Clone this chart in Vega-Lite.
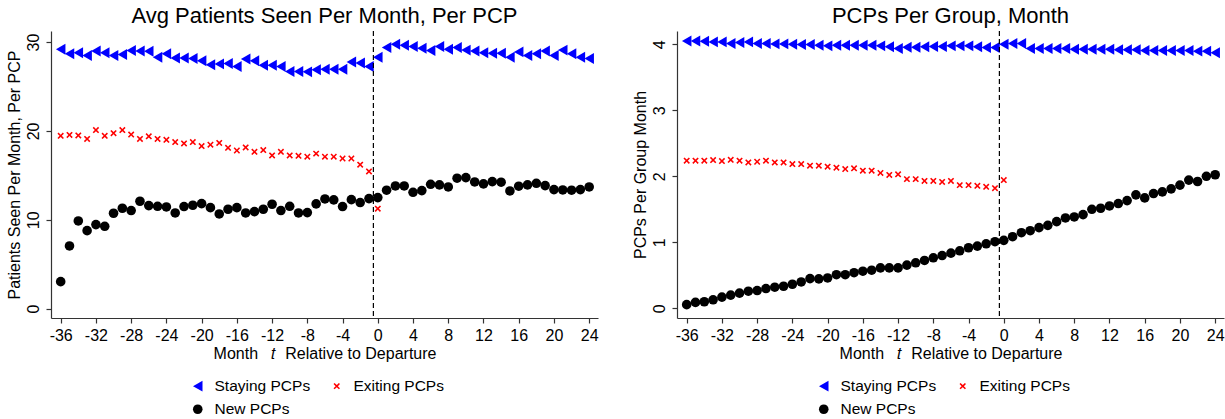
{
  "$schema": "https://vega.github.io/schema/vega-lite/v6.json",
  "background": "white",
  "padding": {"left": 5, "top": 5, "right": 4, "bottom": 0},
  "config": {
    "font": "Liberation Sans",
    "view": {"stroke": null},
    "concat": {"spacing": 33},
    "axis": {"grid": false, "domainColor": "#333333", "tickColor": "#333333", "labelColor": "#000000", "titleColor": "#000000", "labelFont": "Liberation Sans", "titleFont": "Liberation Sans", "labelFontSize": 16, "titleFontSize": 16, "titleFontWeight": "normal", "tickSize": 5, "domainWidth": 1.2, "tickWidth": 1.2, "labelOverlap": false, "labelFlush": false},
    "title": {"fontSize": 22, "fontWeight": "normal", "color": "#000000", "font": "Liberation Sans", "offset": 2},
    "legend": {"orient": "none", "title": null, "direction": "horizontal", "columns": 2, "labelFont": "Liberation Sans", "labelFontSize": 15.5, "labelColor": "#000000", "columnPadding": 18, "rowPadding": 6.5, "labelOffset": 9, "padding": 0, "symbolStrokeWidth": 0, "legendX": 139, "legendY": 347}
  },
  "datasets": {
    "a": [
      {"m": -36, "Staying PCPs": 29.2, "Exiting PCPs": 19.45, "New PCPs": 3.04},
      {"m": -35, "Staying PCPs": 28.7, "Exiting PCPs": 19.55, "New PCPs": 7.06},
      {"m": -34, "Staying PCPs": 28.8, "Exiting PCPs": 19.5, "New PCPs": 9.87},
      {"m": -33, "Staying PCPs": 28.5, "Exiting PCPs": 19.1, "New PCPs": 8.78},
      {"m": -32, "Staying PCPs": 29.0, "Exiting PCPs": 20.1, "New PCPs": 9.46},
      {"m": -31, "Staying PCPs": 28.8, "Exiting PCPs": 19.45, "New PCPs": 9.27},
      {"m": -30, "Staying PCPs": 28.5, "Exiting PCPs": 19.75, "New PCPs": 10.74},
      {"m": -29, "Staying PCPs": 28.6, "Exiting PCPs": 20.1, "New PCPs": 11.3},
      {"m": -28, "Staying PCPs": 29.05, "Exiting PCPs": 19.6, "New PCPs": 11.04},
      {"m": -27, "Staying PCPs": 29.0, "Exiting PCPs": 19.1, "New PCPs": 12.09},
      {"m": -26, "Staying PCPs": 28.98, "Exiting PCPs": 19.4, "New PCPs": 11.6},
      {"m": -25, "Staying PCPs": 28.3, "Exiting PCPs": 19.1, "New PCPs": 11.52},
      {"m": -24, "Staying PCPs": 28.7, "Exiting PCPs": 19.0, "New PCPs": 11.45},
      {"m": -23, "Staying PCPs": 28.2, "Exiting PCPs": 18.75, "New PCPs": 10.77},
      {"m": -22, "Staying PCPs": 28.2, "Exiting PCPs": 18.6, "New PCPs": 11.49},
      {"m": -21, "Staying PCPs": 28.15, "Exiting PCPs": 18.75, "New PCPs": 11.64},
      {"m": -20, "Staying PCPs": 27.9, "Exiting PCPs": 18.3, "New PCPs": 11.82},
      {"m": -19, "Staying PCPs": 27.45, "Exiting PCPs": 18.45, "New PCPs": 11.37},
      {"m": -18, "Staying PCPs": 27.55, "Exiting PCPs": 18.65, "New PCPs": 10.66},
      {"m": -17, "Staying PCPs": 27.6, "Exiting PCPs": 18.1, "New PCPs": 11.19},
      {"m": -16, "Staying PCPs": 27.25, "Exiting PCPs": 17.8, "New PCPs": 11.37},
      {"m": -15, "Staying PCPs": 28.1, "Exiting PCPs": 18.15, "New PCPs": 10.77},
      {"m": -14, "Staying PCPs": 27.9, "Exiting PCPs": 17.65, "New PCPs": 10.92},
      {"m": -13, "Staying PCPs": 27.4, "Exiting PCPs": 17.85, "New PCPs": 11.19},
      {"m": -12, "Staying PCPs": 27.4, "Exiting PCPs": 17.25, "New PCPs": 11.75},
      {"m": -11, "Staying PCPs": 27.25, "Exiting PCPs": 17.65, "New PCPs": 11.04},
      {"m": -10, "Staying PCPs": 26.7, "Exiting PCPs": 17.25, "New PCPs": 11.52},
      {"m": -9, "Staying PCPs": 26.7, "Exiting PCPs": 17.2, "New PCPs": 10.77},
      {"m": -8, "Staying PCPs": 26.65, "Exiting PCPs": 17.1, "New PCPs": 10.81},
      {"m": -7, "Staying PCPs": 26.9, "Exiting PCPs": 17.45, "New PCPs": 11.79},
      {"m": -6, "Staying PCPs": 26.95, "Exiting PCPs": 17.1, "New PCPs": 12.35},
      {"m": -5, "Staying PCPs": 26.95, "Exiting PCPs": 17.1, "New PCPs": 12.24},
      {"m": -4, "Staying PCPs": 26.95, "Exiting PCPs": 16.9, "New PCPs": 11.49},
      {"m": -3, "Staying PCPs": 27.75, "Exiting PCPs": 16.9, "New PCPs": 12.27},
      {"m": -2, "Staying PCPs": 27.65, "Exiting PCPs": 16.2, "New PCPs": 11.94},
      {"m": -1, "Staying PCPs": 27.25, "Exiting PCPs": 15.45, "New PCPs": 12.39},
      {"m": 0, "Staying PCPs": 28.3, "Exiting PCPs": 11.25, "New PCPs": 12.5},
      {"m": 1, "Staying PCPs": 29.4, "New PCPs": 13.33},
      {"m": 2, "Staying PCPs": 29.77, "New PCPs": 13.81},
      {"m": 3, "Staying PCPs": 29.65, "New PCPs": 13.81},
      {"m": 4, "Staying PCPs": 29.5, "New PCPs": 13.1},
      {"m": 5, "Staying PCPs": 29.3, "New PCPs": 13.29},
      {"m": 6, "Staying PCPs": 29.05, "New PCPs": 14.0},
      {"m": 7, "Staying PCPs": 29.5, "New PCPs": 13.93},
      {"m": 8, "Staying PCPs": 29.2, "New PCPs": 13.7},
      {"m": 9, "Staying PCPs": 29.4, "New PCPs": 14.68},
      {"m": 10, "Staying PCPs": 29.1, "New PCPs": 14.75},
      {"m": 11, "Staying PCPs": 29.0, "New PCPs": 14.26},
      {"m": 12, "Staying PCPs": 28.8, "New PCPs": 14.04},
      {"m": 13, "Staying PCPs": 28.75, "New PCPs": 14.3},
      {"m": 14, "Staying PCPs": 28.75, "New PCPs": 14.23},
      {"m": 15, "Staying PCPs": 28.3, "New PCPs": 13.25},
      {"m": 16, "Staying PCPs": 28.9, "New PCPs": 13.78},
      {"m": 17, "Staying PCPs": 28.5, "New PCPs": 13.93},
      {"m": 18, "Staying PCPs": 28.7, "New PCPs": 14.11},
      {"m": 19, "Staying PCPs": 29.0, "New PCPs": 13.85},
      {"m": 20, "Staying PCPs": 28.5, "New PCPs": 13.4},
      {"m": 21, "Staying PCPs": 29.1, "New PCPs": 13.36},
      {"m": 22, "Staying PCPs": 28.7, "New PCPs": 13.33},
      {"m": 23, "Staying PCPs": 28.3, "New PCPs": 13.4},
      {"m": 24, "Staying PCPs": 28.15, "New PCPs": 13.7}
    ],
    "b": [
      {"m": -36, "Staying PCPs": 4.05, "Exiting PCPs": 2.236, "New PCPs": 0.056},
      {"m": -35, "Staying PCPs": 4.05, "Exiting PCPs": 2.236, "New PCPs": 0.09},
      {"m": -34, "Staying PCPs": 4.045, "Exiting PCPs": 2.236, "New PCPs": 0.1},
      {"m": -33, "Staying PCPs": 4.035, "Exiting PCPs": 2.246, "New PCPs": 0.13},
      {"m": -32, "Staying PCPs": 4.035, "Exiting PCPs": 2.23, "New PCPs": 0.17},
      {"m": -31, "Staying PCPs": 4.01, "Exiting PCPs": 2.25, "New PCPs": 0.2},
      {"m": -30, "Staying PCPs": 4.025, "Exiting PCPs": 2.236, "New PCPs": 0.23},
      {"m": -29, "Staying PCPs": 4.035, "Exiting PCPs": 2.21, "New PCPs": 0.26},
      {"m": -28, "Staying PCPs": 4.01, "Exiting PCPs": 2.22, "New PCPs": 0.27},
      {"m": -27, "Staying PCPs": 4.01, "Exiting PCPs": 2.236, "New PCPs": 0.3},
      {"m": -26, "Staying PCPs": 4.005, "Exiting PCPs": 2.21, "New PCPs": 0.32},
      {"m": -25, "Staying PCPs": 4.005, "Exiting PCPs": 2.21, "New PCPs": 0.335},
      {"m": -24, "Staying PCPs": 4.0, "Exiting PCPs": 2.185, "New PCPs": 0.365},
      {"m": -23, "Staying PCPs": 3.995, "Exiting PCPs": 2.185, "New PCPs": 0.4},
      {"m": -22, "Staying PCPs": 3.995, "Exiting PCPs": 2.16, "New PCPs": 0.45},
      {"m": -21, "Staying PCPs": 3.985, "Exiting PCPs": 2.16, "New PCPs": 0.446},
      {"m": -20, "Staying PCPs": 3.975, "Exiting PCPs": 2.145, "New PCPs": 0.46},
      {"m": -19, "Staying PCPs": 3.985, "Exiting PCPs": 2.13, "New PCPs": 0.51},
      {"m": -18, "Staying PCPs": 3.985, "Exiting PCPs": 2.11, "New PCPs": 0.51},
      {"m": -17, "Staying PCPs": 3.985, "Exiting PCPs": 2.12, "New PCPs": 0.54},
      {"m": -16, "Staying PCPs": 3.985, "Exiting PCPs": 2.085, "New PCPs": 0.563},
      {"m": -15, "Staying PCPs": 3.985, "Exiting PCPs": 2.085, "New PCPs": 0.578},
      {"m": -14, "Staying PCPs": 3.975, "Exiting PCPs": 2.05, "New PCPs": 0.613},
      {"m": -13, "Staying PCPs": 3.96, "Exiting PCPs": 2.02, "New PCPs": 0.613},
      {"m": -12, "Staying PCPs": 3.935, "Exiting PCPs": 2.03, "New PCPs": 0.613},
      {"m": -11, "Staying PCPs": 3.955, "Exiting PCPs": 1.957, "New PCPs": 0.654},
      {"m": -10, "Staying PCPs": 3.955, "Exiting PCPs": 1.957, "New PCPs": 0.69},
      {"m": -9, "Staying PCPs": 3.96, "Exiting PCPs": 1.93, "New PCPs": 0.725},
      {"m": -8, "Staying PCPs": 3.965, "Exiting PCPs": 1.93, "New PCPs": 0.766},
      {"m": -7, "Staying PCPs": 3.965, "Exiting PCPs": 1.915, "New PCPs": 0.8},
      {"m": -6, "Staying PCPs": 3.975, "Exiting PCPs": 1.93, "New PCPs": 0.836},
      {"m": -5, "Staying PCPs": 3.975, "Exiting PCPs": 1.866, "New PCPs": 0.872},
      {"m": -4, "Staying PCPs": 3.975, "Exiting PCPs": 1.866, "New PCPs": 0.918},
      {"m": -3, "Staying PCPs": 3.96, "Exiting PCPs": 1.855, "New PCPs": 0.943},
      {"m": -2, "Staying PCPs": 3.95, "Exiting PCPs": 1.84, "New PCPs": 0.978},
      {"m": -1, "Staying PCPs": 3.95, "Exiting PCPs": 1.82, "New PCPs": 1.009},
      {"m": 0, "Staying PCPs": 4.0, "Exiting PCPs": 1.942, "New PCPs": 1.03},
      {"m": 1, "Staying PCPs": 4.01, "New PCPs": 1.085},
      {"m": 2, "Staying PCPs": 4.01, "New PCPs": 1.146},
      {"m": 3, "Staying PCPs": 3.935, "New PCPs": 1.176},
      {"m": 4, "Staying PCPs": 3.935, "New PCPs": 1.222},
      {"m": 5, "Staying PCPs": 3.935, "New PCPs": 1.257},
      {"m": 6, "Staying PCPs": 3.935, "New PCPs": 1.313},
      {"m": 7, "Staying PCPs": 3.935, "New PCPs": 1.369},
      {"m": 8, "Staying PCPs": 3.925, "New PCPs": 1.384},
      {"m": 9, "Staying PCPs": 3.925, "New PCPs": 1.42},
      {"m": 10, "Staying PCPs": 3.925, "New PCPs": 1.5},
      {"m": 11, "Staying PCPs": 3.925, "New PCPs": 1.516},
      {"m": 12, "Staying PCPs": 3.925, "New PCPs": 1.551},
      {"m": 13, "Staying PCPs": 3.915, "New PCPs": 1.587},
      {"m": 14, "Staying PCPs": 3.915, "New PCPs": 1.632},
      {"m": 15, "Staying PCPs": 3.915, "New PCPs": 1.719},
      {"m": 16, "Staying PCPs": 3.905, "New PCPs": 1.673},
      {"m": 17, "Staying PCPs": 3.905, "New PCPs": 1.739},
      {"m": 18, "Staying PCPs": 3.905, "New PCPs": 1.764},
      {"m": 19, "Staying PCPs": 3.905, "New PCPs": 1.81},
      {"m": 20, "Staying PCPs": 3.905, "New PCPs": 1.866},
      {"m": 21, "Staying PCPs": 3.905, "New PCPs": 1.942},
      {"m": 22, "Staying PCPs": 3.895, "New PCPs": 1.921},
      {"m": 23, "Staying PCPs": 3.895, "New PCPs": 2.0},
      {"m": 24, "Staying PCPs": 3.87, "New PCPs": 2.023}
    ]
  },
  "resolve": {
    "scale": {"x": "independent", "y": "independent", "color": "independent", "shape": "independent", "size": "independent"},
    "legend": {"color": "independent", "shape": "independent", "size": "independent"}
  },
  "hconcat": [
    {
      "title": {"text": "Avg Patients Seen Per Month, Per PCP"},
      "width": 547,
      "height": 287,
      "layer": [
        {
          "data": {"name": "a"},
          "transform": [{"fold": ["Staying PCPs", "Exiting PCPs", "New PCPs"], "as": ["series", "v"]}],
          "mark": {"type": "point", "filled": true, "opacity": 1, "strokeWidth": 0},
          "encoding": {
            "x": {"field": "m", "type": "quantitative", "scale": {"domain": [-37.1, 25], "nice": false, "zero": false},
              "axis": {"values": [-36, -32, -28, -24, -20, -16, -12, -8, -4, 0, 4, 8, 12, 16, 20, 24], "tickCount": 40, "labelOverlap": false, "labelFlush": false, "labelExpr": "replace(datum.label, '−', '-')", "title": "Month\u00a0\u00a0 𝑡 \u00a0Relative to Departure", "labelPadding": 4, "titlePadding": 2}},
            "y": {"field": "v", "type": "quantitative", "scale": {"domain": [-1.05, 31.25], "nice": false, "zero": false},
              "axis": {"values": [0, 10, 20, 30], "labelOverlap": false, "title": "Patients Seen Per Month, Per PCP", "labelAngle": 270, "labelAlign": "center", "labelBaseline": "bottom", "labelPadding": 5, "titlePadding": 3}},
            "color": {"field": "series", "type": "nominal", "scale": {"domain": ["Staying PCPs", "Exiting PCPs", "New PCPs"], "range": ["#0000ff", "#ff0000", "#000000"]}},
            "shape": {"field": "series", "type": "nominal", "scale": {"domain": ["Staying PCPs", "Exiting PCPs", "New PCPs"], "range": ["triangle-left", "M-1,-0.66L-0.66,-1L0,-0.34L0.66,-1L1,-0.66L0.34,0L1,0.66L0.66,1L0,0.34L-0.66,1L-1,0.66L-0.34,0Z", "circle"]}},
            "size": {"field": "series", "type": "nominal", "scale": {"type": "ordinal", "domain": ["Staying PCPs", "Exiting PCPs", "New PCPs"], "range": [120, 42, 92]}}
          }
        },
        {
          "data": {"values": [{"m": -0.5}]},
          "mark": {"type": "rule", "strokeDash": [5, 3], "color": "#000000", "strokeWidth": 1.2},
          "encoding": {"x": {"field": "m", "type": "quantitative"}}
        }
      ]
    },
    {
      "title": {"text": "PCPs Per Group, Month"},
      "width": 547,
      "height": 287,
      "layer": [
        {
          "data": {"name": "b"},
          "transform": [{"fold": ["Staying PCPs", "Exiting PCPs", "New PCPs"], "as": ["series", "v"]}],
          "mark": {"type": "point", "filled": true, "opacity": 1, "strokeWidth": 0},
          "encoding": {
            "x": {"field": "m", "type": "quantitative", "scale": {"domain": [-37.1, 25], "nice": false, "zero": false},
              "axis": {"values": [-36, -32, -28, -24, -20, -16, -12, -8, -4, 0, 4, 8, 12, 16, 20, 24], "tickCount": 40, "labelOverlap": false, "labelFlush": false, "labelExpr": "replace(datum.label, '−', '-')", "title": "Month\u00a0\u00a0 𝑡 \u00a0Relative to Departure", "labelPadding": 4, "titlePadding": 2}},
            "y": {"field": "v", "type": "quantitative", "scale": {"domain": [-0.146, 4.2], "nice": false, "zero": false},
              "axis": {"values": [0, 1, 2, 3, 4], "labelOverlap": false, "title": "PCPs Per Group Month", "labelAngle": 270, "labelAlign": "center", "labelBaseline": "bottom", "labelPadding": 5, "titlePadding": 3}},
            "color": {"field": "series", "type": "nominal", "scale": {"domain": ["Staying PCPs", "Exiting PCPs", "New PCPs"], "range": ["#0000ff", "#ff0000", "#000000"]}},
            "shape": {"field": "series", "type": "nominal", "scale": {"domain": ["Staying PCPs", "Exiting PCPs", "New PCPs"], "range": ["triangle-left", "M-1,-0.66L-0.66,-1L0,-0.34L0.66,-1L1,-0.66L0.34,0L1,0.66L0.66,1L0,0.34L-0.66,1L-1,0.66L-0.34,0Z", "circle"]}},
            "size": {"field": "series", "type": "nominal", "scale": {"type": "ordinal", "domain": ["Staying PCPs", "Exiting PCPs", "New PCPs"], "range": [120, 42, 92]}}
          }
        },
        {
          "data": {"values": [{"m": -0.5}]},
          "mark": {"type": "rule", "strokeDash": [5, 3], "color": "#000000", "strokeWidth": 1.2},
          "encoding": {"x": {"field": "m", "type": "quantitative"}}
        }
      ]
    }
  ]
}
